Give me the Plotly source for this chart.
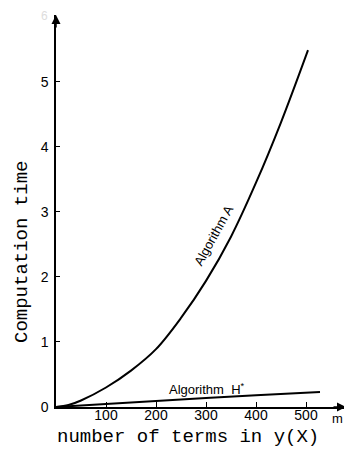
import plotly.graph_objects as go

# Data
m_a = [0, 25, 50, 100, 150, 200, 250, 300, 350, 400, 450, 504]
t_a = [0, 0.03, 0.1, 0.3, 0.56, 0.89, 1.37, 1.94, 2.62, 3.45, 4.38, 5.49]

m_h = [0, 100, 200, 300, 400, 528]
t_h = [0, 0.05, 0.1, 0.14, 0.18, 0.23]

x_ticks = [100, 200, 300, 400, 500]
y_ticks = [0, 1, 2, 3, 4, 5]

x_title = "number of terms in y(X)"
y_title = "Computation time"

tick_font = dict(family="Liberation Sans Narrow, Liberation Sans, Arial", size=14, color="black")
mono = dict(family="Liberation Mono, DejaVu Sans Mono, monospace", size=19, color="black")
label_font = dict(family="Liberation Sans, Arial", size=13, color="black")

# page body has an 8px margin; figure is sized/placed to compensate
OFF = 8
W, H = 352 - OFF, 451 - OFF
L, R, T, B = 56 - OFF, 6, 15 - OFF, 44

fig = go.Figure()
fig.add_trace(go.Scatter(x=m_a, y=t_a, mode="lines",
                         line=dict(color="black", width=2, shape="spline", smoothing=1.0),
                         showlegend=False, hoverinfo="skip"))
fig.add_trace(go.Scatter(x=m_h, y=t_h, mode="lines", line=dict(color="black", width=2),
                         showlegend=False, hoverinfo="skip"))

fig.update_layout(
    width=W, height=H,
    margin=dict(l=L, r=R, t=T, b=B, autoexpand=False),
    plot_bgcolor="white", paper_bgcolor="white",
    xaxis=dict(range=[0, 580], tickvals=x_ticks, ticktext=[str(v) for v in x_ticks],
               showgrid=False, zeroline=False, showline=True, linecolor="black", linewidth=1.5,
               ticks="inside", ticklen=5, tickcolor="black", tickfont=tick_font,
               ticklabelstandoff=-6, automargin=False),
    yaxis=dict(range=[0, 6.03], tickvals=y_ticks, ticktext=[str(v) for v in y_ticks],
               showgrid=False, zeroline=False, showline=True, linecolor="black", linewidth=1.5,
               ticks="inside", ticklen=4, tickcolor="black", tickfont=tick_font,
               ticklabelstandoff=3, automargin=False),
    showlegend=False,
)

ann = []
# axis arrows
ann.append(dict(x=580, y=0, xref="x", yref="y", ax=-14, ay=0, showarrow=True,
                arrowhead=2, arrowsize=1.2, arrowwidth=1.5, arrowcolor="black", text=""))
ann.append(dict(x=0, y=6.03, xref="x", yref="y", ax=0, ay=14, showarrow=True,
                arrowhead=2, arrowsize=1.2, arrowwidth=1.5, arrowcolor="black", text=""))
# pixel-positioned texts (page coordinates)
pix = [
    dict(x=188, y=437, text=x_title, font=mono),
    dict(x=22, y=252, text=y_title, font=mono, textangle=-90),
    dict(x=337, y=419, text="m", font=dict(family="Liberation Sans, Arial", size=13, color="black")),
    dict(x=44, y=16, text="6", font=dict(family="Liberation Sans Narrow, Arial", size=12, color="#dddddd")),
    dict(x=214, y=236, text="Algorithm A", font=label_font, textangle=-61),
    dict(x=207, y=389, text="Algorithm  H<sup>*</sup>", font=label_font),
]
pw, ph = W - L - R, H - T - B
for a in pix:
    px, py = a["x"] - OFF, a["y"] - OFF
    a.update(x=(px - L) / pw, y=(H - B - py) / ph, xref="paper", yref="paper",
             xanchor="center", yanchor="middle", showarrow=False)
    ann.append(a)
fig.update_layout(annotations=ann)

fig.write_html("out.html")
